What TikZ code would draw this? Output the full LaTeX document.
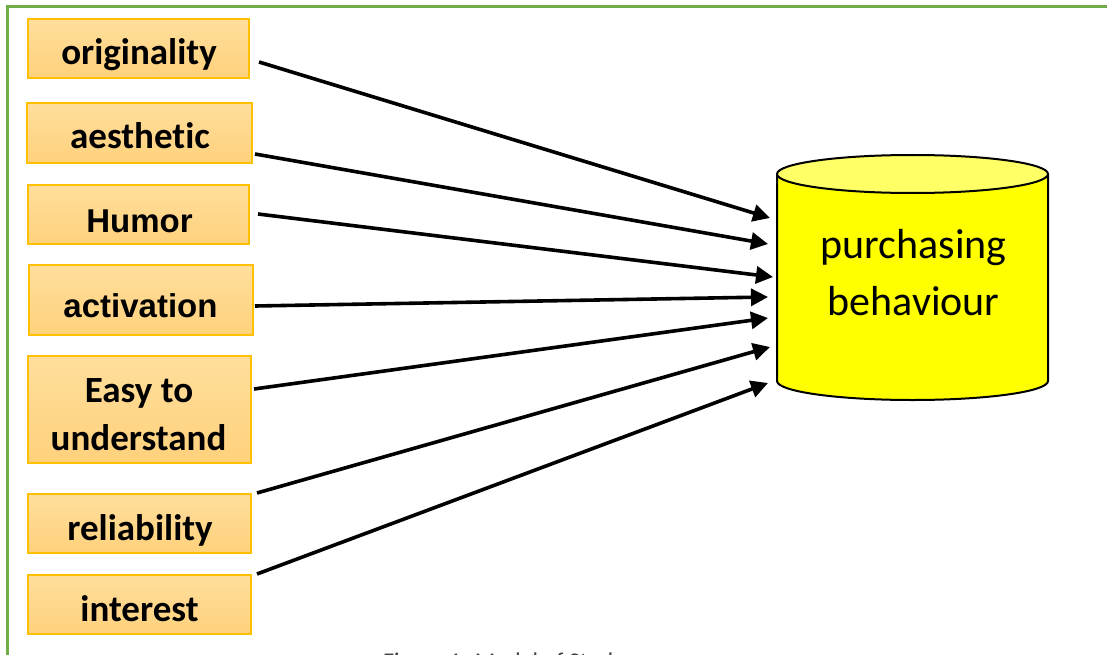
\documentclass[tikz,border=0pt]{standalone}
\usepackage{fontspec}
\setmainfont{Carlito}[Ligatures={NoCommon,NoRare}]
\newfontfamily\arialfont{Liberation Sans}
\usetikzlibrary{arrows.meta}
\definecolor{framegreen}{HTML}{70AD47}
\definecolor{boxborder}{HTML}{FFC000}
\definecolor{boxtop}{HTML}{FFDE9C}
\definecolor{boxbot}{HTML}{FFD17C}
\definecolor{cylbody}{HTML}{FFFF00}
\definecolor{cyltop}{HTML}{FFFF66}
\definecolor{capgrey}{HTML}{404040}
\tikzset{
  factor/.style={draw=boxborder, line width=1.2pt, top color=boxtop, bottom color=boxbot,
    inner sep=0pt, outer sep=0pt},
  ftext/.style={anchor=base, inner sep=0pt, font=\fontsize{37}{37}\selectfont\bfseries},
  atext/.style={anchor=base, inner sep=0pt, font=\fontsize{33}{33}\selectfont\arialfont\bfseries},
  link/.style={line width=3.6pt, -{Triangle[length=17pt,width=17pt]}},
}
\begin{document}
\begin{tikzpicture}[x=1pt,y=-1pt]
\useasboundingbox (0,0) rectangle (1107,655);
\fill[white] (0,0) rectangle (1107,655);
\begin{scope}
\clip (0,0) rectangle (1107,655);
\draw[framegreen, line width=3pt] (7,7) rectangle (1115,720);
\node[anchor=base west, inner sep=0pt, text=capgrey, font=\fontsize{24}{24}\selectfont] (cap) at (383,669) {Figure 1: Model of Study};
\end{scope}

% factor boxes
\node[factor, minimum width=221pt, minimum height=59pt] (b1) at (138.5,48.5) {};
\node[factor, minimum width=225pt, minimum height=60pt] (b2) at (139.5,133) {};
\node[factor, minimum width=221pt, minimum height=59pt] (b3) at (138.5,214.5) {};
\node[factor, minimum width=224pt, minimum height=70pt] (b4) at (141,300) {};
\node[factor, minimum width=223pt, minimum height=107pt] (b5) at (139.5,409.5) {};
\node[factor, minimum width=223pt, minimum height=59pt] (b6) at (139.5,523.5) {};
\node[factor, minimum width=223pt, minimum height=59pt] (b7) at (139.5,604.5) {};

\node[ftext] (t1) at (139,65) {originality};
\node[ftext] (t2) at (140,149) {aesthetic};
\node[atext] (t3) at (139.5,232) {Humor};
\node[atext] (t4) at (140.5,317) {activation};
\node[ftext] (t5a) at (139,402) {Easy to};
\node[ftext] (t5b) at (138.5,450) {understand};
\node[ftext] (t6) at (140,540) {reliability};
\node[ftext] (t7) at (139.5,621) {interest};

% cylinder
\fill[cylbody] (777,174) -- (777,381) arc[start angle=180, end angle=360, x radius=135.5pt, y radius=19pt] -- (1048,174) -- cycle;
\draw[line width=2pt] (777,174) -- (777,381) arc[start angle=180, end angle=360, x radius=135.5pt, y radius=19pt] -- (1048,174);
\draw[line width=2pt, fill=cyltop] (912.5,174) ellipse [x radius=135.5pt, y radius=19pt];
\node[anchor=base, inner sep=0pt, font=\fontsize{42}{42}\selectfont] (pb1) at (913.5,258) {purchasing};
\node[anchor=base, inner sep=0pt, font=\fontsize{42}{42}\selectfont] (pb2) at (913.5,315) {behaviour};

% connector ends
\coordinate (s1) at (259,62);  \coordinate (e1) at (770,218);
\coordinate (s2) at (255,154); \coordinate (e2) at (768,244);
\coordinate (s3) at (258,214); \coordinate (e3) at (773,277);
\coordinate (s4) at (255,306); \coordinate (e4) at (768,297);
\coordinate (s5) at (254,389); \coordinate (e5) at (768,318);
\coordinate (s6) at (257,493); \coordinate (e6) at (770,347);
\coordinate (s7) at (257,574); \coordinate (e7) at (768,383);
\foreach \i in {1,...,7} \draw[link] (s\i) -- (e\i);
\end{tikzpicture}
\end{document}
